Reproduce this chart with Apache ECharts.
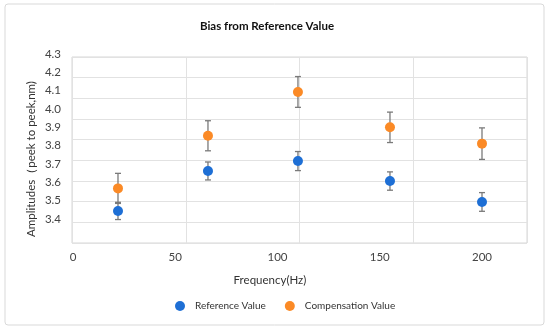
<!DOCTYPE html>
<html><head><meta charset="utf-8">
<script src="https://cdn.jsdelivr.net/npm/echarts@6/dist/echarts.min.js"></script>
<style>html,body{margin:0;padding:0;background:#fff}#c{width:550px;height:331px}</style>
</head><body><div id="c"></div>
<script>
// ---- data ----
const frequencies = [22, 66, 110, 155, 200];
const referenceValue = [3.444, 3.662, 3.716, 3.607, 3.493];
const referenceError = [0.047, 0.049, 0.052, 0.050, 0.051];
const compensationValue = [3.567, 3.854, 4.093, 3.900, 3.811];
const compensationError = [0.082, 0.082, 0.084, 0.083, 0.086];
const xTickRange = [0, 200, 50];       // min, max, interval of the frequency labels
const yTickRange = [3.4, 4.3, 0.1];    // min, max, interval of the amplitude labels
const seriesNames = ['Reference Value', 'Compensation Value'];
const titleText = 'Bias from Reference Value';
const xName = 'Frequency(Hz)';
const yName = 'Amplitudes（peek to peek,nm)';

// ---- layout ----
const FONT = 'Lato';
const plot = {left: 72, right: 527, top: 57, bottom: 243};
const labelBox = {left: 73, right: 482, top: 54, bottom: 219};
const xPx = (labelBox.right - labelBox.left) / (xTickRange[1] - xTickRange[0]);
const yPx = (labelBox.bottom - labelBox.top) / (yTickRange[1] - yTickRange[0]);
const dataXMin = xTickRange[0] - (labelBox.left - plot.left) / xPx;
const dataXMax = xTickRange[0] + (plot.right - labelBox.left) / xPx;
const dataYMin = yTickRange[0] - (plot.bottom - labelBox.bottom) / yPx;
const dataYMax = yTickRange[0] + (labelBox.bottom - plot.top) / yPx;

const blue = '#1e6fd5', orange = '#fb8a26', errColor = '#7a7a7a', gridColor = '#e2e2e2';

function errRender(params, api) {
  const x = api.value(0), lo = api.value(1), hi = api.value(2);
  const p1 = api.coord([x, hi]), p2 = api.coord([x, lo]);
  const w = 3;
  const style = {stroke: errColor, lineWidth: 1.3};
  return {type: 'group', children: [
    {type: 'line', shape: {x1: p1[0], y1: p1[1], x2: p2[0], y2: p2[1]}, style},
    {type: 'line', shape: {x1: p1[0] - w, y1: p1[1], x2: p1[0] + w, y2: p1[1]}, style},
    {type: 'line', shape: {x1: p2[0] - w, y1: p2[1], x2: p2[0] + w, y2: p2[1]}, style}
  ]};
}
const errData = (vals, errs) => frequencies.map((f, i) => [f, vals[i] - errs[i], vals[i] + errs[i]]);

const chart = echarts.init(document.getElementById('c'), null, {renderer: 'canvas'});
chart.setOption({
  backgroundColor: '#fff',
  animation: false,
  textStyle: {fontFamily: FONT},
  grid: [
    {left: plot.left, top: plot.top, width: plot.right - plot.left, height: plot.bottom - plot.top,
     show: true, borderColor: '#d6d6d6', borderWidth: 1, backgroundColor: 'transparent'},
    {left: labelBox.left, top: labelBox.top, width: labelBox.right - labelBox.left, height: labelBox.bottom - labelBox.top,
     show: false}
  ],
  xAxis: [
    {type: 'value', gridIndex: 0, min: dataXMin, max: dataXMax, show: false},
    {type: 'value', gridIndex: 0, min: 0, max: 4, interval: 1,
     axisLine: {show: false}, axisTick: {show: false}, axisLabel: {show: false},
     splitLine: {show: true, lineStyle: {color: gridColor, width: 1}}},
    {type: 'value', gridIndex: 1, min: xTickRange[0], max: xTickRange[1], interval: xTickRange[2],
     axisLine: {show: false}, axisTick: {show: false}, splitLine: {show: false},
     axisLabel: {color: '#444', fontSize: 11.5, fontFamily: FONT, margin: 32}}
  ],
  yAxis: [
    {type: 'value', gridIndex: 0, min: dataYMin, max: dataYMax, show: false},
    {type: 'value', gridIndex: 0, min: 0, max: 9, interval: 1,
     axisLine: {show: false}, axisTick: {show: false}, axisLabel: {show: false},
     splitLine: {show: true, lineStyle: {color: gridColor, width: 1}}},
    {type: 'value', gridIndex: 1, min: yTickRange[0], max: yTickRange[1], interval: yTickRange[2],
     axisLine: {show: false}, axisTick: {show: false}, splitLine: {show: false},
     axisLabel: {color: '#444', fontSize: 11.5, fontFamily: FONT, margin: 12,
                 formatter: v => v.toFixed(1)}}
  ],
  legend: {
    data: seriesNames, icon: 'circle', itemWidth: 20, itemHeight: 10, itemGap: 19,
    left: 170, top: 296, textStyle: {color: '#333', fontSize: 10, fontFamily: FONT}
  },
  graphic: [
    {type: 'rect', shape: {x: 5, y: 4, width: 539, height: 321, r: 3},
     style: {fill: 'none', stroke: '#d9d9d9', lineWidth: 1}, silent: true},
    {type: 'text', x: 267, y: 26, style: {text: titleText, textAlign: 'center', textVerticalAlign: 'middle',
     font: 'bold 11.5px ' + FONT, fill: '#111'}},
    {type: 'text', x: 270, y: 280, style: {text: xName, textAlign: 'center', textVerticalAlign: 'middle',
     font: '11.5px ' + FONT, fill: '#333'}},
    {type: 'text', x: 31, y: 159, rotation: Math.PI / 2, style: {text: yName, textAlign: 'center',
     textVerticalAlign: 'middle', font: '11.5px ' + FONT, fill: '#333'}}
  ],
  series: [
    {type: 'custom', name: 'refErr', xAxisIndex: 0, yAxisIndex: 0, renderItem: errRender,
     data: errData(referenceValue, referenceError), encode: {x: 0, y: [1, 2]}, z: 2},
    {type: 'custom', name: 'compErr', xAxisIndex: 0, yAxisIndex: 0, renderItem: errRender,
     data: errData(compensationValue, compensationError), encode: {x: 0, y: [1, 2]}, z: 2},
    {type: 'scatter', name: seriesNames[0], xAxisIndex: 0, yAxisIndex: 0, symbolSize: 10,
     itemStyle: {color: blue, opacity: 1}, z: 3,
     data: frequencies.map((f, i) => [f, referenceValue[i]])},
    {type: 'scatter', name: seriesNames[1], xAxisIndex: 0, yAxisIndex: 0, symbolSize: 10,
     itemStyle: {color: orange, opacity: 1}, z: 3,
     data: frequencies.map((f, i) => [f, compensationValue[i]])}
  ]
});
</script></body></html>
